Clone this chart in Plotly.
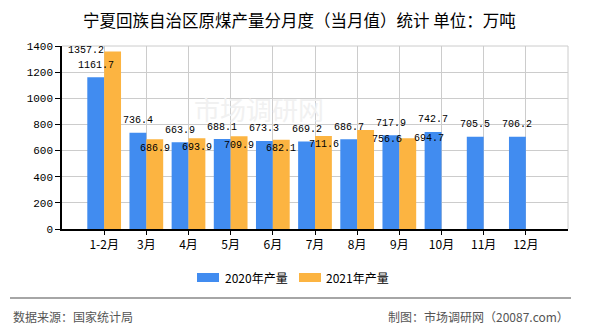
import plotly.graph_objects as go

# Monthly raw coal output of Ningxia (current-month value), unit: 10k tonnes
months = ["1-2月", "3月", "4月", "5月", "6月", "7月", "8月", "9月", "10月", "11月", "12月"]
output_2020 = [1161.7, 736.4, 663.9, 688.1, 673.3, 669.2, 686.7, 717.9, 742.7, 705.5, 706.2]
output_2021 = [1357.2, 686.9, 693.9, 709.9, 682.1, 711.6, 756.6, 694.7, None, None, None]
y_ticks = [0, 200, 400, 600, 800, 1000, 1200, 1400]

BLUE = "#418CF0"
ORANGE = "#FCB441"
NUM_FONT = "Liberation Mono"
CJK_FONT = "Noto Sans CJK SC"

W, H = 590, 330
L, R, T, B = 62, 22, 46, 101
PW, PH = W - L - R, H - T - B


def px(x):
    return (x - L) / PW


def py(y):
    return (T + PH - y) / PH


def paper_text(text, x, y, size, color="#000", xanchor="center", family=CJK_FONT):
    return dict(text=text, xref="paper", yref="paper", x=px(x), y=py(y),
                xanchor=xanchor, yanchor="middle", showarrow=False,
                font=dict(family=family, size=size, color=color))


fig = go.Figure()
fig.add_bar(name="2020年产量", x=months, y=output_2020, marker_color=BLUE,
            marker_line_width=0)
fig.add_bar(name="2021年产量", x=months, y=output_2021, marker_color=ORANGE,
            marker_line_width=0)

annotations = []

# background watermark
annotations.append(paper_text("市场调研网", 259, 108, 26, color="#f1f1f1"))

# value labels: 2020 above its bar, 2021 just inside the top of its bar,
# a few 2021 labels nudged sideways to keep clear of neighbours
label_font = dict(family=NUM_FONT, size=10, color="#000")
nudge_2021 = {0: (-27, -10), 6: (21, 0), 7: (21, -9)}
for i, (m, v) in enumerate(zip(months, output_2020)):
    annotations.append(dict(x=m, y=v, text=f"{v:.1f}", showarrow=False,
                            xanchor="center", yanchor="middle",
                            xshift=-8.5, yshift=12, font=label_font))
for i, (m, v) in enumerate(zip(months, output_2021)):
    if v is None:
        continue
    dx, dy = nudge_2021.get(i, (0, 0))
    annotations.append(dict(x=m, y=v, text=f"{v:.1f}", showarrow=False,
                            xanchor="center", yanchor="middle",
                            xshift=8.5 + dx, yshift=-9 - dy, font=label_font))

# title
annotations.append(paper_text("宁夏回族自治区原煤产量分月度（当月值）统计 单位：万吨",
                              299, 20, 16.5))

# legend text
annotations.append(paper_text("2020年产量", 223, 277.5, 12, xanchor="left"))
annotations.append(paper_text("2021年产量", 324, 277.5, 12, xanchor="left"))

# footer
annotations.append(paper_text("数据来源：国家统计局", 11, 316, 12, color="#555",
                              xanchor="left"))
annotations.append(paper_text("制图：市场调研网（20087.com）", 571, 316, 12,
                              color="#555", xanchor="right"))

shapes = [
    # right border of plot area
    dict(type="line", xref="paper", yref="paper", x0=1, x1=1, y0=0, y1=1,
         line=dict(color="#cccccc", width=1)),
    # top border
    dict(type="line", xref="paper", yref="paper", x0=0, x1=1, y0=1, y1=1,
         line=dict(color="#cccccc", width=1)),
    # legend swatches
    dict(type="rect", xref="paper", yref="paper", x0=px(197), x1=px(219),
         y0=py(282), y1=py(273), fillcolor=BLUE, line_width=0),
    dict(type="rect", xref="paper", yref="paper", x0=px(299), x1=px(321),
         y0=py(282), y1=py(273), fillcolor=ORANGE, line_width=0),
    # footer separator
    dict(type="line", xref="paper", yref="paper", x0=px(10), x1=px(571),
         y0=py(298), y1=py(298), line=dict(color="#888888", width=1.5)),
]

fig.update_layout(
    width=W, height=H,
    margin=dict(l=L, r=R, t=T, b=B, pad=0),
    paper_bgcolor="white", plot_bgcolor="white",
    barmode="group", bargap=0.2, bargroupgap=0,
    showlegend=False,
    annotations=annotations,
    shapes=shapes,
    font=dict(family=CJK_FONT, size=12, color="#000"),
)
fig.update_xaxes(
    type="category", range=[-1, len(months)],
    showgrid=True, gridcolor="#cccccc", gridwidth=1,
    showline=True, linecolor="#000", linewidth=1.5,
    ticks="outside", ticklen=4, tickcolor="#000",
    tickfont=dict(family=CJK_FONT, size=12, color="#000"),
    fixedrange=True,
)
fig.update_yaxes(
    range=[0, 1400], tickvals=y_ticks,
    showgrid=True, gridcolor="#cccccc", gridwidth=1, zeroline=False,
    showline=True, linecolor="#000", linewidth=1.5,
    ticks="outside", ticklen=5, tickcolor="#000",
    tickfont=dict(family=NUM_FONT, size=11, color="#000"),
    fixedrange=True,
)

fig.write_html("out.html", config={"displayModeBar": False})
